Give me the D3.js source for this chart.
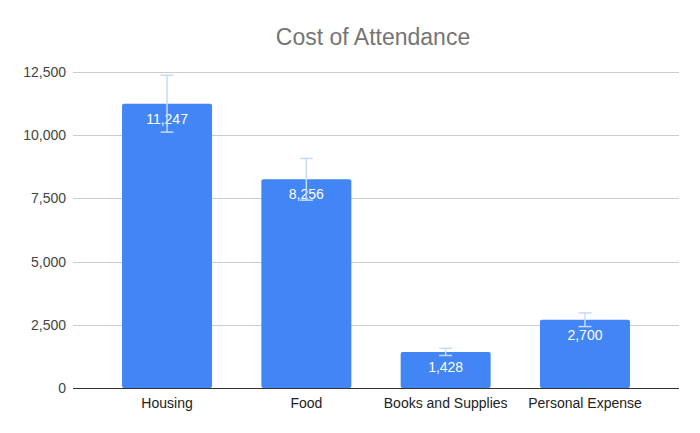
<!DOCTYPE html>
<html lang="en">
<head>
  <meta charset="UTF-8" />
  <title>Cost of Attendance</title>
  <script src="https://d3js.org/d3.v7.min.js"></script>
  <style>
    body { margin: 0; background: #fff; font-family: Arial, "Liberation Sans", sans-serif; }
    svg { display: block; }
    .grid line { stroke: #cccccc; stroke-width: 1px; }
    .axis text { fill: #444; font-size: 14px; font-family: Arial, "Liberation Sans", sans-serif; }
    .xaxis text { fill: #222; font-size: 14px; font-family: Arial, "Liberation Sans", sans-serif; }
  </style>
</head>
<body>

<svg width="700" height="433"></svg>

<script>
  const categories = ["Housing", "Food", "Books and Supplies", "Personal Expense"];
  const values = [11247, 8256, 1428, 2700];
  const errors = [1125, 826, 143, 270];
  const yTicks = [0, 2500, 5000, 7500, 10000, 12500];

  const svg = d3.select("svg"),
        margin = {top: 72, right: 21, bottom: 45, left: 73},
        width = +svg.attr("width") - margin.left - margin.right,
        height = +svg.attr("height") - margin.top - margin.bottom;

  const g = svg.append("g").attr("transform", `translate(${margin.left},${margin.top})`);

  const x = d3.scaleBand()
    .domain(categories)
    .range([0, width])
    .paddingInner(0.354)
    .paddingOuter(0.352);

  const y = d3.scaleLinear()
    .domain([0, 12500])
    .range([height, 0]);

  const fmt = d3.format(",");

  // grid lines
  g.append("g")
    .attr("class", "grid")
    .selectAll("line")
    .data(yTicks.filter(t => t > 0))
    .enter()
    .append("line")
    .attr("x1", 0)
    .attr("x2", width)
    .attr("y1", d => Math.round(y(d)) + 0.5)
    .attr("y2", d => Math.round(y(d)) + 0.5);

  // y axis labels
  const yAxis = g.append("g")
    .attr("class", "axis")
    .call(d3.axisLeft(y).tickValues(yTicks).tickFormat(fmt).tickSize(0).tickPadding(7));
  yAxis.select(".domain").remove();

  // bars
  g.selectAll(".bar")
    .data(values)
    .enter()
    .append("rect")
    .attr("class", "bar")
    .attr("x", (d, i) => x(categories[i]))
    .attr("y", d => y(d))
    .attr("width", x.bandwidth())
    .attr("height", d => height - y(d))
    .attr("rx", 2)
    .attr("fill", "#4285f4");

  // bar value labels
  g.selectAll(".val")
    .data(values)
    .enter()
    .append("text")
    .attr("class", "val")
    .attr("x", (d, i) => x(categories[i]) + x.bandwidth() / 2)
    .attr("y", d => y(d) + 20)
    .attr("text-anchor", "middle")
    .attr("fill", "#ffffff")
    .style("font-size", "14px")
    .text(d => fmt(d));

  // error bars
  const err = g.selectAll(".err")
    .data(values)
    .enter()
    .append("g")
    .attr("class", "err")
    .attr("stroke", "#c6dafc")
    .attr("stroke-width", 1.5);

  err.append("line")
    .attr("x1", (d, i) => x(categories[i]) + x.bandwidth() / 2)
    .attr("x2", (d, i) => x(categories[i]) + x.bandwidth() / 2)
    .attr("y1", (d, i) => y(d + errors[i]))
    .attr("y2", (d, i) => y(d - errors[i]));

  [1, -1].forEach(s => {
    err.append("line")
      .attr("x1", (d, i) => x(categories[i]) + x.bandwidth() / 2 - 6.5)
      .attr("x2", (d, i) => x(categories[i]) + x.bandwidth() / 2 + 6.5)
      .attr("y1", (d, i) => y(d + s * errors[i]))
      .attr("y2", (d, i) => y(d + s * errors[i]));
  });

  // baseline
  g.append("line")
    .attr("x1", 0)
    .attr("x2", width)
    .attr("y1", height + 0.5)
    .attr("y2", height + 0.5)
    .attr("stroke", "#333")
    .attr("stroke-width", 1);

  // x axis labels
  const xAxis = g.append("g")
    .attr("class", "xaxis")
    .attr("transform", `translate(0,${height})`)
    .call(d3.axisBottom(x).tickSize(0).tickPadding(10));
  xAxis.select(".domain").remove();

  // title
  svg.append("text")
    .attr("x", margin.left + width / 2 - 3)
    .attr("y", 45)
    .attr("text-anchor", "middle")
    .attr("fill", "#757575")
    .style("font-size", "23px")
    .text("Cost of Attendance");
</script>

</body>
</html>
